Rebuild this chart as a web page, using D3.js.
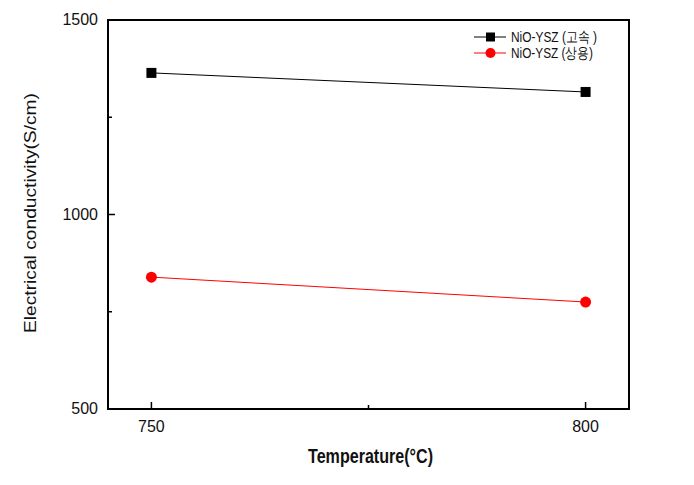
<!DOCTYPE html>
<html><head><meta charset="utf-8">
<script src="https://cdn.jsdelivr.net/npm/d3@7"></script>
<style>body{margin:0;background:#fff}svg{display:block}text{font-family:"Liberation Sans",Arial,sans-serif}</style>
</head><body>
<svg id="c" width="694" height="485"></svg>
<script>
const temperatures = [750, 800];
const seriesNames = ["NiO-YSZ (고속 )", "NiO-YSZ (상용)"];
const fastValues = [1364, 1315];
const commercialValues = [839, 775];
const seriesColors = ["#000000", "#ff0000"];
const yTicks = [500, 1000, 1500];
const xTicks = [750, 800];

const svg = d3.select("#c");
const m = {l:108, t:20, r:629, b:409};
const x = d3.scaleLinear().domain([745, 805]).range([m.l, m.r]);
const y = d3.scaleLinear().domain([500, 1500]).range([m.b, m.t]);

svg.append("rect").attr("x", m.l).attr("y", m.t).attr("width", m.r-m.l).attr("height", m.b-m.t)
  .attr("fill","none").attr("stroke","#000").attr("stroke-width",2);

const gx = svg.append("g");
xTicks.forEach(v=>{
  gx.append("line").attr("x1",x(v)).attr("x2",x(v)).attr("y1",m.b).attr("y2",m.b-7).attr("stroke","#000").attr("stroke-width",1.5);
  gx.append("text").attr("x",x(v)).attr("y",m.b+23).attr("text-anchor","middle").attr("font-size",16).attr("fill","#111").text(v);
});
gx.append("line").attr("x1",x(775)).attr("x2",x(775)).attr("y1",m.b).attr("y2",m.b-4).attr("stroke","#000").attr("stroke-width",1.5);

const gy = svg.append("g");
yTicks.forEach(v=>{
  gy.append("line").attr("x1",m.l).attr("x2",m.l+7).attr("y1",y(v)).attr("y2",y(v)).attr("stroke","#000").attr("stroke-width",1.5);
  gy.append("text").attr("x",m.l-10).attr("y",y(v)+5).attr("text-anchor","end").attr("font-size",16).attr("fill","#111").text(v);
});
[750,1250].forEach(v=>{
  gy.append("line").attr("x1",m.l).attr("x2",m.l+4).attr("y1",y(v)).attr("y2",y(v)).attr("stroke","#000").attr("stroke-width",1.5);
});

svg.append("text").attr("x",(m.l+m.r)/2+2).attr("y",463).attr("text-anchor","middle")
  .attr("font-size",20).attr("font-weight","bold").attr("textLength",125).attr("lengthAdjust","spacingAndGlyphs")
  .attr("fill","#111").text("Temperature(°C)");
svg.append("text").attr("transform",`translate(36,213) rotate(-90)`).attr("text-anchor","middle")
  .attr("font-size",17).attr("textLength",240).attr("lengthAdjust","spacingAndGlyphs")
  .attr("fill","#111").text("Electrical conductivity(S/cm)");

const series = [fastValues, commercialValues];
const line = d3.line().x((d,i)=>x(temperatures[i])).y(d=>y(d));
series.forEach((vals,si)=>{
  svg.append("path").datum(vals).attr("d",line).attr("fill","none").attr("stroke",seriesColors[si]).attr("stroke-width",1);
  vals.forEach((v,i)=>{
    if(si===0){
      svg.append("rect").attr("x",x(temperatures[i])-5).attr("y",y(v)-5).attr("width",10).attr("height",10).attr("fill",seriesColors[si]);
    } else {
      svg.append("circle").attr("cx",x(temperatures[i])).attr("cy",y(v)).attr("r",5.5).attr("fill",seriesColors[si]);
    }
  });
});

seriesNames.forEach((n,i)=>{
  const ly = 37 + i*16;
  svg.append("line").attr("x1",474).attr("x2",506).attr("y1",ly).attr("y2",ly).attr("stroke",seriesColors[i]).attr("stroke-width",1);
  if(i===0) svg.append("rect").attr("x",486).attr("y",ly-4.5).attr("width",9).attr("height",9).attr("fill",seriesColors[i]);
  else svg.append("circle").attr("cx",490.5).attr("cy",ly).attr("r",5).attr("fill",seriesColors[i]);
  svg.append("text").attr("x",511).attr("y",ly+5).attr("font-size",15)
    .attr("textLength", i===0 ? 86 : 82).attr("lengthAdjust","spacingAndGlyphs")
    .attr("fill","#111").text(n);
});
</script>
</body></html>
